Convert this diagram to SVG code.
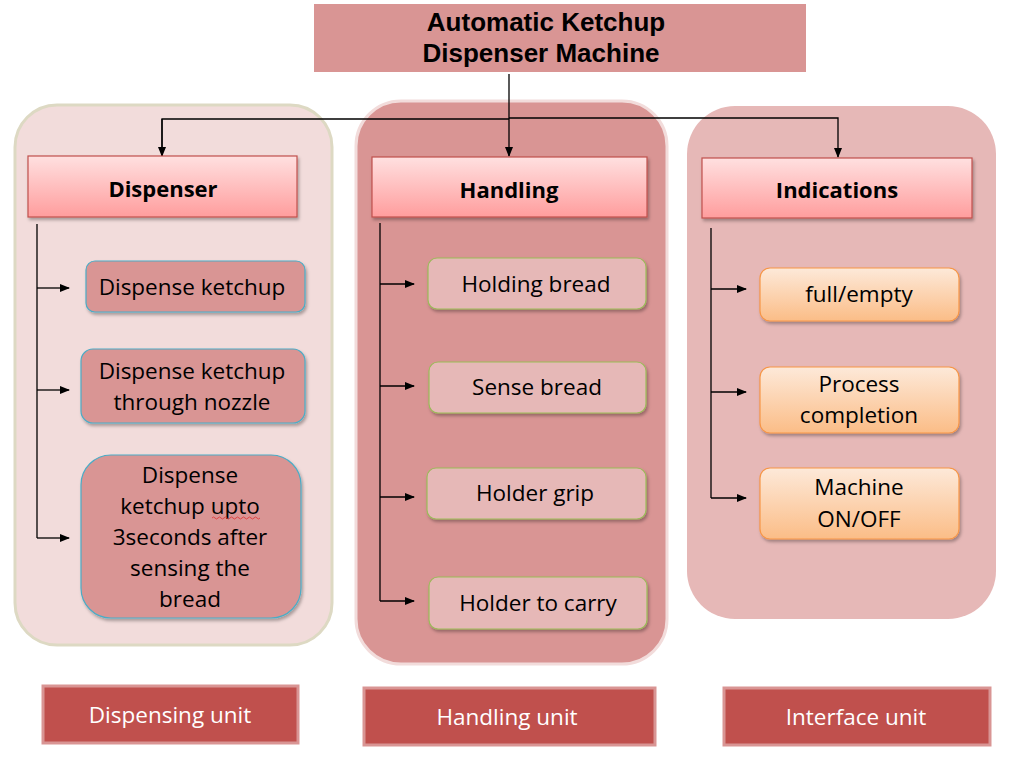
<svg xmlns="http://www.w3.org/2000/svg" width="1017" height="770" viewBox="0 0 1017 770">
<style>
.title{font-family:"Liberation Sans",Arial,sans-serif;font-weight:bold;font-size:26px;fill:#000;text-anchor:middle}
.hdr{font-family:"Open Sans","Noto Sans",sans-serif;font-weight:bold;font-size:22px;fill:#000;text-anchor:middle}
.item{font-family:"Open Sans","Noto Sans",sans-serif;font-size:22.5px;fill:#000;text-anchor:middle}
.unit{font-family:"Open Sans","Noto Sans",sans-serif;font-size:22.5px;fill:#fff;text-anchor:middle}
.hbox{fill:url(#gHdr);stroke:#c0504d;stroke-width:1.2}
.dbox{fill:#d99594;stroke:#4bacc6;stroke-width:1.2}
.mbox{fill:#e6b8b7;stroke:#9bbb59;stroke-width:1.2}
.obox{fill:url(#gOr);stroke:#f79646;stroke-width:1.2}
.ubox{fill:#c0504d;stroke:#d99594;stroke-width:3}
.ln{fill:none;stroke:#000;stroke-width:1.3}
</style>
<defs>
<linearGradient id="gHdr" x1="0" y1="0" x2="0" y2="1">
<stop offset="0" stop-color="#ffe0e0"/><stop offset="1" stop-color="#ff9d9d"/>
</linearGradient>
<linearGradient id="gOr" x1="0" y1="0" x2="0" y2="1">
<stop offset="0" stop-color="#fde9d9"/><stop offset="1" stop-color="#fbbd87"/>
</linearGradient>
<filter id="sh" x="-10%" y="-10%" width="130%" height="140%">
<feDropShadow dx="1.5" dy="2.5" stdDeviation="1.8" flood-color="#000" flood-opacity="0.3"/>
</filter>
<marker id="ar" markerWidth="10" markerHeight="8" refX="9" refY="4" orient="auto" markerUnits="userSpaceOnUse">
<path d="M0,0 L10,4 L0,8 z" fill="#000"/>
</marker>
</defs>
<rect width="1017" height="770" fill="#fff"/>

<g id="containers">
<rect id="c-disp" x="15" y="105" width="317" height="540" rx="42" fill="#f2dcdb" stroke="#ddd9c3" stroke-width="3"/>
<rect id="c-hand" x="356" y="101" width="311" height="563" rx="45" fill="#d99594" stroke="#f2dcdb" stroke-width="3"/>
<rect id="c-ind" x="687" y="106" width="309" height="513" rx="48" fill="#e6b8b7"/>
</g>

<g id="title">
<rect x="314" y="4" width="492" height="68" fill="#d99594"/>
<text class="title" x="546" y="31">Automatic Ketchup</text>
<text class="title" x="541" y="62">Dispenser Machine</text>
</g>

<g id="connectors">
<path class="ln" d="M509,74 V156" marker-end="url(#ar)"/>
<path class="ln" d="M162,156 V119 H509 M509,118 H838 V157" marker-end="url(#ar)"/>
<path class="ln" d="M162,119 V156" marker-end="url(#ar)"/>
<path class="ln" d="M37,224 V538"/>
<path class="ln" d="M37,288 H69" marker-end="url(#ar)"/>
<path class="ln" d="M37,390 H69" marker-end="url(#ar)"/>
<path class="ln" d="M37,538 H69" marker-end="url(#ar)"/>
<path class="ln" d="M380,223 V601"/>
<path class="ln" d="M380,284 H414" marker-end="url(#ar)"/>
<path class="ln" d="M380,386 H414" marker-end="url(#ar)"/>
<path class="ln" d="M380,497 H414" marker-end="url(#ar)"/>
<path class="ln" d="M380,601 H414" marker-end="url(#ar)"/>
<path class="ln" d="M711,228 V498"/>
<path class="ln" d="M711,289 H746" marker-end="url(#ar)"/>
<path class="ln" d="M711,392 H746" marker-end="url(#ar)"/>
<path class="ln" d="M711,498 H746" marker-end="url(#ar)"/>
</g>

<g id="n-dispenser"><rect class="hbox" x="28" y="156" width="269" height="61" filter="url(#sh)"/><text class="hdr" x="163" y="197">Dispenser</text></g>
<g id="n-handling"><rect class="hbox" x="372" y="157" width="275" height="60" filter="url(#sh)"/><text class="hdr" x="509" y="198">Handling</text></g>
<g id="n-indications"><rect class="hbox" x="702" y="158" width="270" height="60" filter="url(#sh)"/><text class="hdr" x="837" y="198">Indications</text></g>

<g id="n-d1"><rect class="dbox" x="86" y="261" width="219" height="51" rx="9" filter="url(#sh)"/><text class="item" x="192" y="295">Dispense ketchup</text></g>
<g id="n-d2"><rect class="dbox" x="81" y="349" width="224" height="74" rx="12" filter="url(#sh)"/><text class="item" x="192" y="379">Dispense ketchup</text><text class="item" x="192" y="410">through nozzle</text></g>
<g id="n-d3"><rect class="dbox" x="81" y="455" width="220" height="163" rx="30" filter="url(#sh)"/>
<text class="item" x="190" y="483">Dispense</text>
<text class="item" x="190" y="514">ketchup upto</text>
<path d="M212,518 q1.5,-2 3,0 t3,0 t3,0 t3,0 t3,0 t3,0 t3,0 t3,0 t3,0 t3,0 t3,0 t3,0 t3,0 t3,0 t3,0 t3,0" fill="none" stroke="#e03030" stroke-width="0.8"/>
<text class="item" x="190" y="545">3seconds after</text>
<text class="item" x="190" y="576">sensing the</text>
<text class="item" x="190" y="607">bread</text></g>

<g id="n-h1"><rect class="mbox" x="428" y="258" width="218" height="51" rx="9" filter="url(#sh)"/><text class="item" x="536" y="292">Holding bread</text></g>
<g id="n-h2"><rect class="mbox" x="429" y="362" width="217" height="51" rx="9" filter="url(#sh)"/><text class="item" x="537" y="395">Sense bread</text></g>
<g id="n-h3"><rect class="mbox" x="427" y="468" width="219" height="51" rx="9" filter="url(#sh)"/><text class="item" x="535" y="501">Holder grip</text></g>
<g id="n-h4"><rect class="mbox" x="429" y="577" width="218" height="52" rx="9" filter="url(#sh)"/><text class="item" x="538" y="611">Holder to carry</text></g>

<g id="n-i1"><rect class="obox" x="760" y="268" width="199" height="53" rx="10" filter="url(#sh)"/><text class="item" x="859" y="302">full/empty</text></g>
<g id="n-i2"><rect class="obox" x="760" y="367" width="199" height="66" rx="10" filter="url(#sh)"/><text class="item" x="859" y="392">Process</text><text class="item" x="859" y="423">completion</text></g>
<g id="n-i3"><rect class="obox" x="760" y="468" width="199" height="71" rx="10" filter="url(#sh)"/><text class="item" x="859" y="495">Machine</text><text class="item" x="859" y="527">ON/OFF</text></g>

<g id="u-disp"><rect class="ubox" x="43" y="686" width="255" height="57"/><text class="unit" x="170" y="723">Dispensing unit</text></g>
<g id="u-hand"><rect class="ubox" x="364" y="688" width="291" height="57"/><text class="unit" x="507" y="725">Handling unit</text></g>
<g id="u-int"><rect class="ubox" x="724" y="688" width="266" height="57"/><text class="unit" x="856" y="725">Interface unit</text></g>
</svg>
